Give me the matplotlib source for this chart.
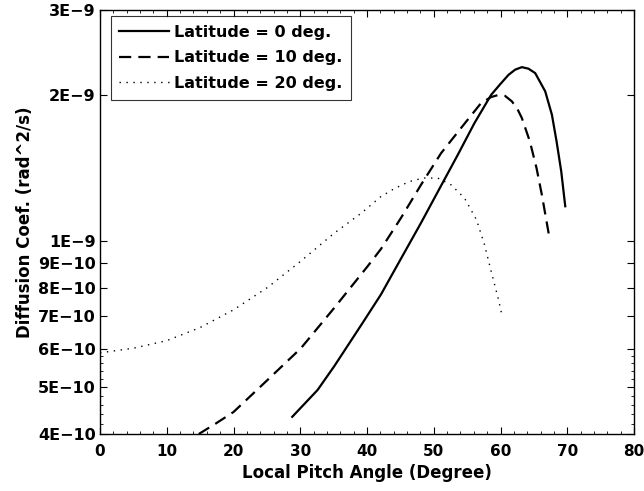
import numpy as np
import matplotlib
matplotlib.use("Agg")
import matplotlib.pyplot as plt
from matplotlib.ticker import FixedLocator, NullFormatter

# Values (pitch angle in degrees, D in rad^2/s)
lat0_angle = [28.8, 32.6, 35.1, 39.35, 42.1, 45.1, 48.1, 51.1, 53.6, 56.1, 58.6, 59.9, 61.2,
              62.2, 63.2, 64.2, 65.2, 66.7, 67.7, 68.4, 69.1, 69.7]
lat0_coef = [4.34e-10, 4.93e-10, 5.52e-10, 6.78e-10, 7.76e-10, 9.2e-10, 1.09e-9, 1.300e-9,
             1.505e-9, 1.750e-9, 2.001e-9, 2.10e-9, 2.200e-9, 2.255e-9, 2.282e-9, 2.265e-9,
             2.218e-9, 2.034e-9, 1.821e-9, 1.604e-9, 1.391e-9, 1.179e-9]

lat10_angle = [14.8, 17.3, 20.0, 25.1, 30.1, 35.1, 40.1, 42.1, 45.1, 48.1, 51.1, 54.1, 57.1,
               58.6, 59.6, 60.7, 61.7, 62.5, 63.2, 64.4, 65.4, 66.2, 66.9, 67.3]
lat10_coef = [4.0e-10, 4.2e-10, 4.44e-10, 5.17e-10, 6.01e-10, 7.28e-10, 8.87e-10, 9.63e-10,
              1.116e-9, 1.306e-9, 1.517e-9, 1.710e-9, 1.925e-9, 1.98e-9, 1.998e-9, 1.99e-9,
              1.94e-9, 1.875e-9, 1.792e-9, 1.604e-9, 1.413e-9, 1.244e-9, 1.097e-9, 1.021e-9]

lat20_angle = [0.0, 5.0, 10.0, 15.0, 20.0, 25.1, 30.1, 35.1, 39.1, 42.1, 44.1, 46.3, 48.4,
               50.6, 52.6, 54.6, 56.4, 57.6, 58.6, 59.7, 60.2]
lat20_coef = [5.88e-10, 6.01e-10, 6.23e-10, 6.63e-10, 7.21e-10, 8.02e-10, 9.09e-10, 1.038e-9,
              1.14e-9, 1.235e-9, 1.282e-9, 1.325e-9, 1.348e-9, 1.348e-9, 1.305e-9, 1.226e-9,
              1.106e-9, 9.83e-10, 8.66e-10, 7.57e-10, 7.05e-10]

ytick_vals = [4e-10, 5e-10, 6e-10, 7e-10, 8e-10, 9e-10, 1e-9, 2e-9, 3e-9]
ytick_labels = ["4E\u221210", "5E\u221210", "6E\u221210", "7E\u221210", "8E\u221210",
                "9E\u221210", "1E\u22129", "2E\u22129", "3E\u22129"]
yminor_vals = [4.2e-10, 4.4e-10, 4.6e-10, 4.8e-10, 5.2e-10, 5.4e-10, 5.6e-10, 5.8e-10]

plt.rcParams["font.family"] = ["DejaVu Sans"]
plt.rcParams["font.weight"] = "bold"

fig = plt.figure(figsize=(6.44, 4.91), dpi=100)
# axes box: x 100..634 px, y 9.5..434 px
ax = fig.add_axes([100 / 644, 57 / 491, 534 / 644, 424.5 / 491])

ax.plot(lat0_angle, lat0_coef, color="black", linewidth=1.6, label="Latitude = 0 deg.")
ax.plot(lat10_angle, lat10_coef, color="black", linewidth=1.6, linestyle=(0, (5.5, 3.2)),
        label="Latitude = 10 deg.")
ax.plot(lat20_angle, lat20_coef, color="black", linewidth=1.0, linestyle=(0, (1, 4)),
        label="Latitude = 20 deg.")

ax.set_yscale("log")
ax.set_xlim(0, 80)
ax.set_ylim(4e-10, 3e-9)

ax.xaxis.set_major_locator(FixedLocator(np.arange(0, 81, 10)))
ax.xaxis.set_minor_locator(FixedLocator(np.arange(0, 81, 2)))
ax.yaxis.set_major_locator(FixedLocator(ytick_vals))
ax.set_yticklabels(ytick_labels)
ax.yaxis.set_minor_locator(FixedLocator(yminor_vals))
ax.yaxis.set_minor_formatter(NullFormatter())

ax.tick_params(which="both", direction="in", top=True, right=True, pad=3)
ax.tick_params(axis="y", which="major", labelsize=11.5)
ax.tick_params(axis="x", which="major", labelsize=11, pad=7.5)
ax.tick_params(which="major", length=5, width=0.8)
ax.tick_params(which="minor", length=2.5, width=0.6)
for sp in ax.spines.values():
    sp.set_linewidth(1.0)

ax.set_xlabel("Local Pitch Angle (Degree)", fontsize=12, fontweight="bold", labelpad=3)
ax.set_ylabel("Diffusion Coef. (rad^2/s)", fontsize=12, fontweight="bold", labelpad=3)

leg = ax.legend(loc="upper left", bbox_to_anchor=(10.7 / 534, 1 - 6.5 / 424.5),
                borderaxespad=0, fontsize=11.5, frameon=True, fancybox=False,
                edgecolor="black", handlelength=3.1, handletextpad=0.33, borderpad=0.54,
                labelspacing=0.67)
leg.get_frame().set_linewidth(0.8)
for t in leg.get_texts():
    t.set_fontweight("bold")

fig.savefig("out.png", dpi=100)
